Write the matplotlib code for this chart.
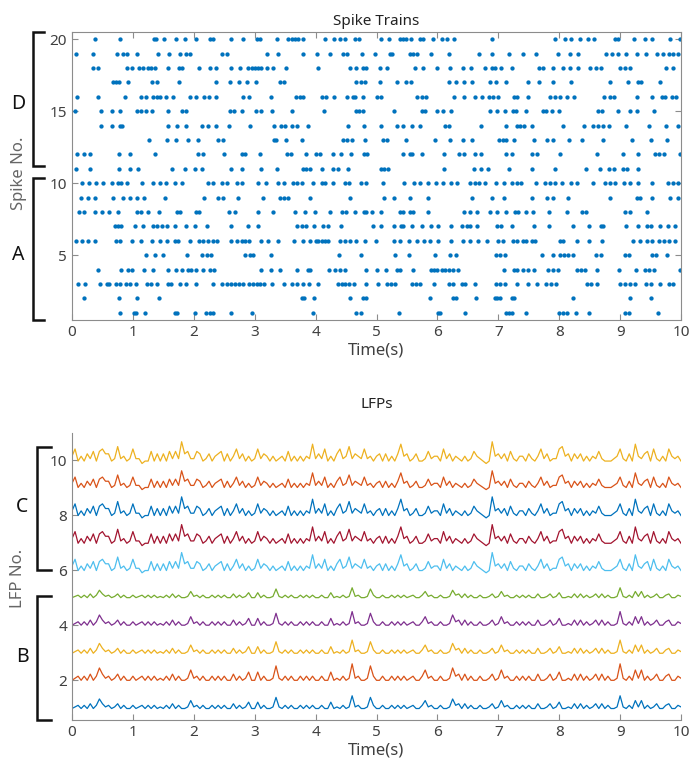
import numpy as np
import matplotlib.pyplot as plt
from matplotlib import transforms

# spike times (s) for neurons 1..20
spike_times = [
    [0.78, 1.02, 1.05, 1.20, 1.69, 1.73, 2.02, 2.20, 2.26, 2.32, 2.61, 2.95, 3.96, 4.67, 4.74, 5.37, 6.01, 6.05, 6.45,
     7.13, 7.18, 7.23, 7.45, 8.00, 8.06, 8.13, 8.27, 8.49, 9.08, 9.14, 9.63],
    [0.20, 0.77, 1.07, 1.43, 3.77, 3.81, 3.97, 4.57, 4.78, 4.82, 5.88, 6.25, 6.31, 6.64, 6.94, 6.98, 7.02, 7.22, 7.25,
     8.23, 9.16, 9.51],
    [0.10, 0.21, 0.46, 0.57, 0.61, 0.73, 0.79, 0.89, 0.95, 1.05, 1.23, 1.29, 1.39, 1.58, 1.62, 1.78, 1.88, 2.04, 2.31,
     2.47, 2.54, 2.61, 2.68, 2.75, 2.81, 2.90, 2.98, 3.03, 3.09, 3.15, 3.28, 3.48, 3.61, 3.70, 3.80, 3.89, 4.04, 4.37,
     4.43, 4.48, 4.55, 4.63, 4.82, 5.03, 5.18, 5.23, 5.30, 5.58, 5.65, 5.71, 5.94, 6.19, 6.26, 6.40, 6.45, 6.61, 6.97,
     7.02, 7.11, 7.30, 7.49, 7.64, 7.78, 7.86, 7.95, 8.46, 8.53, 8.62, 9.00, 9.08, 9.16, 9.24, 9.42, 9.50, 9.66, 9.80,
     9.87],
    [0.42, 0.81, 0.92, 0.99, 1.18, 1.33, 1.58, 1.70, 1.81, 1.91, 1.96, 2.04, 2.15, 2.26, 2.33, 3.11, 3.26, 3.42, 3.70,
     3.88, 3.91, 4.22, 4.32, 4.40, 4.48, 4.83, 5.00, 5.16, 5.33, 5.39, 5.60, 5.89, 5.94, 6.00, 6.07, 6.12, 6.19, 6.26,
     6.34, 7.09, 7.25, 7.31, 7.41, 7.49, 7.59, 7.82, 7.89, 7.98, 8.29, 8.35, 8.42, 8.62, 8.98, 9.26, 9.41, 9.48, 9.55,
     9.98],
    [1.22, 1.36, 1.50, 1.89, 2.14, 2.21, 2.29, 2.84, 2.92, 2.98, 3.26, 4.39, 4.75, 5.30, 5.54, 5.96, 6.20, 6.31, 6.97,
     7.03, 7.11, 7.71, 7.89, 8.02, 8.08, 8.15, 8.22, 8.61, 8.68, 9.08, 9.15, 9.53, 9.59, 9.77],
    [0.07, 0.16, 0.27, 0.38, 0.72, 0.78, 0.99, 1.13, 1.31, 1.45, 1.56, 1.69, 1.74, 1.93, 2.08, 2.15, 2.23, 2.32, 2.38,
     2.61, 2.71, 2.79, 2.84, 2.90, 3.11, 3.22, 3.39, 3.64, 3.79, 3.90, 4.00, 4.04, 4.10, 4.15, 4.21, 4.40, 4.48, 4.56,
     4.67, 4.81, 4.99, 5.28, 5.39, 5.54, 5.67, 5.78, 5.88, 6.01, 6.23, 6.42, 6.54, 6.67, 6.81, 7.00, 7.07, 7.24, 7.30,
     7.41, 7.45, 7.55, 7.60, 8.01, 8.06, 8.29, 8.49, 8.71, 9.22, 9.32, 9.44, 9.53, 9.64, 9.72, 9.80, 9.90],
    [0.70, 0.76, 0.81, 1.03, 1.17, 1.33, 1.39, 1.47, 1.56, 1.69, 1.87, 2.02, 2.21, 2.61, 2.89, 3.06, 3.70, 3.77, 3.85,
     3.97, 4.12, 4.21, 4.41, 4.94, 5.07, 5.29, 5.40, 5.44, 5.59, 5.74, 5.90, 6.01, 6.22, 6.40, 6.48, 6.53, 6.65, 6.98,
     7.05, 7.22, 7.59, 7.84, 8.23, 8.49, 8.68, 8.72, 9.09, 9.30, 9.44, 9.50, 9.66, 9.79, 9.90],
    [0.12, 0.19, 0.38, 0.50, 0.61, 0.76, 1.06, 1.14, 1.25, 1.43, 1.73, 1.77, 2.03, 2.08, 2.58, 2.68, 3.06, 3.30, 3.66,
     3.82, 3.99, 4.23, 4.43, 4.50, 4.65, 4.79, 4.83, 4.92, 5.07, 5.38, 5.44, 5.55, 5.60, 5.85, 6.43, 6.53, 6.65, 6.87,
     6.98, 7.13, 7.27, 7.33, 7.45, 7.57, 7.84, 8.13, 8.37, 8.44, 9.08, 9.17, 9.44],
    [0.15, 0.27, 0.38, 0.68, 0.83, 0.95, 1.07, 1.18, 1.52, 2.17, 2.40, 2.48, 2.73, 3.14, 3.42, 3.48, 3.55, 3.91, 4.56,
     5.12, 5.28, 5.55, 5.85, 6.56, 6.90, 7.09, 7.55, 7.80, 7.90, 8.15, 8.83, 9.27, 9.33, 9.52, 9.82, 9.95],
    [0.16, 0.28, 0.39, 0.51, 0.65, 0.76, 0.81, 0.90, 1.15, 1.33, 1.44, 1.55, 1.69, 1.81, 2.24, 2.31, 2.47, 2.55, 2.71,
     2.79, 3.06, 3.18, 3.39, 3.48, 3.63, 3.70, 3.77, 3.95, 4.10, 4.15, 4.28, 4.48, 4.55, 4.75, 4.83, 5.10, 5.45, 5.61,
     5.71, 5.85, 5.97, 6.10, 6.22, 6.32, 6.53, 6.61, 6.69, 6.78, 6.97, 7.09, 7.23, 7.31, 7.38, 7.62, 7.77, 7.85, 7.93,
     8.04, 8.19, 8.29, 8.56, 8.75, 8.83, 8.91, 9.06, 9.16, 9.30, 9.52, 9.79, 9.87, 9.95],
    [0.07, 0.30, 0.77, 0.96, 1.09, 1.64, 1.86, 2.02, 2.14, 2.61, 2.79, 3.10, 3.37, 3.80, 3.85, 3.91, 4.10, 4.29, 4.37,
     4.53, 5.07, 5.12, 5.19, 6.11, 6.60, 6.71, 6.83, 7.18, 7.55, 7.93, 8.44, 8.67, 8.82, 8.90, 9.05, 9.12, 9.30],
    [0.08, 0.20, 0.30, 0.77, 0.95, 1.37, 2.07, 2.15, 2.50, 2.79, 2.84, 3.08, 3.53, 3.59, 3.84, 4.00, 4.07, 4.29, 4.41,
     4.58, 4.79, 4.85, 5.43, 5.55, 5.59, 5.74, 6.11, 6.36, 6.43, 6.61, 6.71, 7.13, 7.22, 7.55, 7.63, 8.01, 8.62, 9.04,
     9.30, 9.57, 9.64, 9.72, 9.98],
    [1.27, 1.56, 1.70, 1.91, 2.07, 2.40, 2.48, 3.32, 3.35, 3.51, 3.77, 4.45, 4.52, 4.59, 4.81, 5.11, 5.17, 5.49, 5.96,
     6.20, 6.42, 6.56, 7.01, 7.07, 7.13, 7.26, 7.59, 7.80, 7.90, 8.16, 8.38, 8.72, 9.20, 9.51, 9.77],
    [0.48, 0.66, 0.78, 0.82, 1.58, 1.73, 1.88, 2.14, 2.23, 2.37, 2.58, 2.92, 3.32, 3.44, 3.50, 3.61, 3.69, 3.87, 4.53,
     4.79, 5.07, 5.34, 5.44, 5.58, 5.72, 6.12, 6.19, 6.71, 7.13, 7.30, 7.36, 7.42, 7.55, 8.06, 8.41, 8.56, 8.64, 8.72,
     8.82, 9.10, 9.48, 9.76, 9.95],
    [0.05, 0.48, 0.66, 0.78, 1.07, 1.14, 1.21, 1.31, 1.58, 1.81, 1.88, 2.60, 2.66, 2.79, 3.02, 3.11, 3.28, 3.62, 4.14,
     4.67, 4.71, 4.78, 5.29, 5.74, 5.79, 5.99, 6.10, 6.23, 6.86, 6.98, 7.11, 7.24, 7.29, 7.45, 7.74, 7.79, 7.88, 8.00,
     8.64, 8.70, 8.97, 9.16, 9.27, 9.55],
    [0.09, 0.42, 0.87, 1.13, 1.22, 1.33, 1.39, 1.44, 1.55, 1.66, 1.93, 2.04, 2.16, 2.25, 2.36, 2.80, 2.91, 3.26, 3.68,
     3.75, 3.79, 4.10, 4.17, 4.30, 4.51, 4.61, 4.64, 4.78, 5.01, 5.08, 5.66, 5.74, 5.82, 6.27, 6.43, 6.61, 6.74, 6.85,
     6.92, 7.00, 7.25, 7.31, 7.48, 7.85, 7.93, 8.01, 8.13, 8.24, 8.73, 8.83, 8.90, 9.27, 9.53, 9.68, 9.73, 9.86, 9.91],
    [0.67, 0.72, 0.77, 0.92, 1.32, 1.40, 1.76, 2.37, 2.60, 2.75, 2.88, 3.02, 3.41, 3.48, 4.67, 4.74, 4.81, 5.05, 5.33,
     5.49, 5.56, 6.19, 6.31, 6.43, 6.56, 6.86, 6.97, 7.13, 7.48, 7.67, 7.90, 8.20, 8.83, 9.13, 9.30, 9.35, 9.65],
    [0.34, 0.43, 0.90, 0.98, 1.10, 1.17, 1.24, 1.29, 1.36, 1.58, 1.76, 1.81, 2.09, 2.26, 2.36, 2.61, 2.76, 2.89, 2.95,
     3.00, 3.06, 3.11, 3.20, 3.30, 3.52, 4.04, 4.56, 4.67, 4.78, 4.83, 5.06, 5.18, 5.63, 5.77, 6.00, 6.20, 6.42, 6.55,
     6.78, 6.89, 6.94, 7.05, 7.23, 7.67, 7.73, 7.90, 8.06, 8.18, 8.31, 8.50, 8.60, 8.68, 9.00, 9.08, 9.16, 9.76, 9.87],
    [0.07, 0.35, 0.74, 0.83, 0.91, 1.07, 1.42, 1.59, 1.78, 1.87, 1.93, 2.47, 2.55, 3.21, 3.39, 3.80, 4.02, 4.24, 4.45,
     4.52, 4.77, 4.98, 5.22, 5.26, 5.55, 5.60, 5.67, 5.89, 6.19, 6.68, 6.89, 7.18, 7.40, 7.62, 7.98, 8.18, 8.31, 8.77,
     8.86, 8.97, 9.09, 9.27, 9.42, 9.60, 9.71, 9.80, 9.87, 9.95],
    [0.38, 0.79, 1.35, 1.38, 1.51, 1.70, 1.86, 2.03, 2.26, 2.31, 2.61, 2.80, 3.03, 3.09, 3.37, 3.55, 3.61, 3.66, 3.71,
     3.79, 4.15, 4.30, 4.40, 4.48, 4.65, 4.71, 5.08, 5.21, 5.38, 5.44, 5.49, 5.56, 5.71, 5.77, 5.92, 6.08, 6.16, 6.27,
     6.89, 7.93, 8.09, 8.19, 8.34, 8.48, 8.57, 8.91, 8.97, 9.23, 9.41, 9.53, 9.82, 9.98],
]

# LFP activity read every 0.05 s (relative peak height 0-9), one row per second
lfp_dt = 0.05
lfp_c_profile = [
    3, 6, 1, 3, 1, 4, 2, 5, 1, 5, 6, 4, 4, 1, 2, 7, 2, 3, 1, 2,
    6, 2, 2, 0, 1, 1, 5, 1, 4, 1, 4, 1, 5, 2, 5, 2, 9, 4, 5, 2,
    2, 5, 4, 1, 2, 4, 1, 3, 4, 5, 1, 4, 1, 3, 6, 2, 4, 1, 3, 1,
    2, 6, 2, 4, 3, 1, 3, 1, 2, 3, 1, 5, 1, 3, 1, 3, 1, 3, 2, 8,
    2, 4, 2, 6, 1, 3, 1, 4, 6, 2, 3, 7, 2, 4, 3, 2, 6, 2, 3, 1,
    3, 4, 1, 4, 1, 3, 1, 4, 8, 3, 4, 1, 2, 4, 1, 1, 2, 5, 2, 3,
    3, 1, 6, 2, 4, 1, 3, 2, 1, 3, 1, 2, 5, 3, 2, 1, 0, 1, 9, 3,
    4, 2, 4, 1, 5, 2, 1, 3, 3, 1, 4, 2, 1, 3, 6, 2, 4, 1, 2, 2,
    6, 7, 3, 4, 1, 4, 2, 4, 1, 3, 1, 3, 2, 5, 2, 1, 1, 1, 2, 3,
    6, 2, 1, 4, 1, 8, 3, 2, 4, 5, 1, 6, 2, 1, 3, 1, 6, 3, 2, 3,
    1,
]
lfp_b_profile = [
    1, 2, 3, 1, 3, 1, 4, 1, 3, 7, 4, 2, 3, 1, 2, 4, 1, 3, 1, 1,
    3, 1, 2, 3, 1, 3, 1, 3, 1, 2, 1, 3, 1, 4, 1, 3, 1, 1, 2, 6,
    2, 3, 1, 3, 1, 1, 3, 1, 3, 1, 3, 1, 1, 4, 1, 3, 1, 2, 5, 1,
    1, 5, 1, 3, 1, 1, 2, 8, 2, 1, 3, 1, 3, 1, 1, 3, 1, 3, 1, 3,
    1, 1, 3, 1, 1, 5, 1, 2, 1, 3, 1, 2, 9, 2, 3, 1, 1, 2, 8, 3,
    1, 1, 3, 1, 1, 3, 1, 3, 1, 3, 1, 2, 3, 1, 1, 3, 6, 2, 3, 1,
    1, 3, 1, 1, 2, 7, 3, 4, 1, 4, 1, 3, 1, 1, 3, 1, 1, 2, 4, 1,
    2, 6, 2, 3, 1, 1, 3, 1, 3, 1, 3, 1, 1, 4, 1, 1, 2, 4, 1, 2,
    5, 1, 1, 2, 1, 4, 1, 4, 1, 3, 1, 2, 4, 1, 4, 1, 3, 1, 1, 2,
    9, 2, 1, 3, 1, 6, 2, 6, 1, 3, 1, 2, 4, 1, 1, 3, 4, 1, 1, 3,
    2,
]
# channel 1..10: baseline level and height of one profile unit
lfp_base = [0.91, 1.92, 2.92, 3.94, 4.96, 5.91, 6.90, 7.91, 8.94, 9.89]
lfp_gain = [0.058, 0.075, 0.060, 0.062, 0.045, 0.082, 0.085, 0.085, 0.076, 0.088]
lfp_group = ['B', 'B', 'B', 'B', 'B', 'C', 'C', 'C', 'C', 'C']
lfp_colors = ['#0072BD', '#D95319', '#EDB120', '#7E2F8E', '#77AC30',
              '#4DBEEE', '#A2142F', '#0072BD', '#D95319', '#EDB120']

plt.rcParams['font.family'] = ['Noto Sans', 'DejaVu Sans']
spine_c = '#8c8c8c'
text_c = '#404040'

fig = plt.figure(figsize=(6.93, 7.81), dpi=100)

# ---- spike raster ----
ax1 = fig.add_axes([72/693, 1-320/781, 609/693, 288/781])
for i, times in enumerate(spike_times):
    ax1.plot(times, np.full(len(times), i+1), 'o', ms=3.1, color='#0072BD', mec='none')
ax1.set_xlim(0, 10)
ax1.set_ylim(0.5, 20.5)
ax1.set_xticks(range(11))
ax1.set_yticks([5, 10, 15, 20])
ax1.tick_params(direction='in', top=True, right=True, length=4, width=0.8,
                color=spine_c, labelcolor=text_c, labelsize=11)
for s in ax1.spines.values():
    s.set_color(spine_c)
ax1.set_title('Spike Trains', fontsize=11, color='#222222', pad=5)
ax1.set_xlabel('Time(s)', fontsize=12, color=text_c, labelpad=2)

# ---- LFPs ----
ax2 = fig.add_axes([72/693, 1-720/781, 609/693, 287/781])
t = np.arange(len(lfp_c_profile)) * lfp_dt
for k in range(10):
    prof = np.array(lfp_c_profile if lfp_group[k] == 'C' else lfp_b_profile)
    ax2.plot(t, lfp_base[k] + lfp_gain[k] * prof, color=lfp_colors[k], lw=0.9)
ax2.set_xlim(0, 10)
ax2.set_ylim(0.55, 11.0)
ax2.set_xticks(range(11))
ax2.set_yticks([2, 4, 6, 8, 10])
ax2.tick_params(direction='in', length=4, width=0.8, color=spine_c,
                labelcolor=text_c, labelsize=11)
ax2.spines['top'].set_visible(False)
ax2.spines['right'].set_visible(False)
for s in ['left', 'bottom']:
    ax2.spines[s].set_color(spine_c)
ax2.set_title('LFPs', fontsize=11, color='#222222', pad=18)
ax2.set_xlabel('Time(s)', fontsize=12, color=text_c, labelpad=2)


def bracket(ax, y0, y1, xl, xr):
    tr = transforms.blended_transform_factory(ax.transAxes, ax.transData)
    ax.plot([xr, xl, xl, xr], [y0, y0, y1, y1], color='#111111', lw=1.8,
            transform=tr, clip_on=False, solid_joinstyle='miter')


def px(x):
    return (x - 72) / 609


bracket(ax1, 20.5, 11.2, px(33), px(44))
bracket(ax1, 10.35, 0.5, px(33), px(44))
tr1 = transforms.blended_transform_factory(ax1.transAxes, ax1.transData)
ax1.text(px(18), 15.5, 'D', transform=tr1, ha='center', va='center', fontsize=14, color='#111111')
ax1.text(px(18), 5.0, 'A', transform=tr1, ha='center', va='center', fontsize=14, color='#111111')
ax1.text(px(19), 10.7, 'Spike No.', transform=tr1, rotation=90, ha='center', va='center',
         fontsize=12, color='#666666')

bracket(ax2, 10.5, 6.0, px(37), px(51))
bracket(ax2, 5.05, 0.55, px(37), px(51))
tr2 = transforms.blended_transform_factory(ax2.transAxes, ax2.transData)
ax2.text(px(22), 8.3, 'C', transform=tr2, ha='center', va='center', fontsize=14, color='#111111')
ax2.text(px(22), 2.85, 'B', transform=tr2, ha='center', va='center', fontsize=14, color='#111111')
ax2.text(px(18), 5.7, 'LFP No.', transform=tr2, rotation=90, ha='center', va='center',
         fontsize=12, color='#666666')

fig.savefig('out.png', dpi=100)
